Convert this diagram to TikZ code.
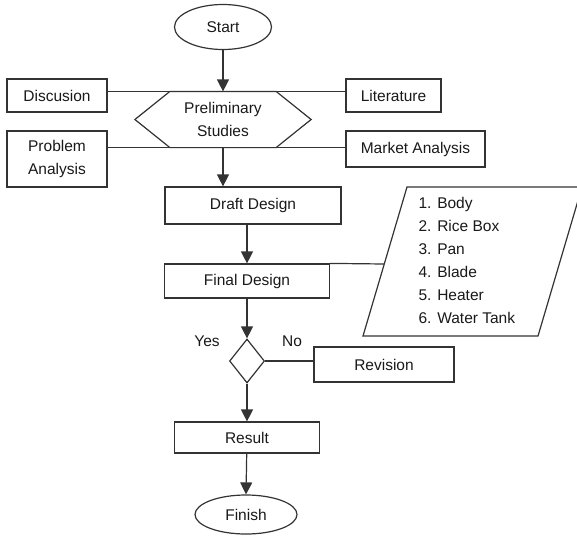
\documentclass[tikz,border=0pt]{standalone}
\usepackage{fontspec}
\setmainfont{Liberation Sans}
\usetikzlibrary{arrows.meta,shapes.geometric}

\begin{document}
\begin{tikzpicture}[x=1pt,y=-1pt,
	line width=1.2pt, draw=black!80,
	every node/.style={font=\fontsize{15.5}{22.5}\selectfont, text=black!90, inner sep=0pt},
	box/.style={draw=black!80, rectangle, align=center},
	term/.style={draw=black!80, ellipse},
	arr/.style={-{Triangle[length=12pt,width=12pt]}}]
	\useasboundingbox (0,0) rectangle (577,535);

	% Start and finish
	\node[term, minimum width=97pt, minimum height=45pt] (start) at (223,27) {Start};
	\node[term, minimum width=102pt, minimum height=39pt] (finish) at (246,514.5) {Finish};

	% Preliminary studies and its inputs
	\node[minimum width=175pt, minimum height=55pt, align=center] (prelim) at (223,119.5) {Preliminary\\Studies};
	\draw (prelim.west) -- ([xshift=35pt]prelim.north west) -- ([xshift=-35pt]prelim.north east)
		-- (prelim.east) -- ([xshift=-35pt]prelim.south east) -- ([xshift=35pt]prelim.south west) -- cycle;
	\node[box, minimum width=100pt, minimum height=33pt] (disc) at (57,95.5) {Discusion};
	\node[box, minimum width=95pt, minimum height=33pt] (lit) at (393.5,95.5) {Literature};
	\node[box, minimum width=100pt, minimum height=56pt] (prob) at (57,159) {Problem\\Analysis};
	\node[box, minimum width=139pt, minimum height=36pt] (mkt) at (415.5,149) {Market Analysis};

	% Design steps
	\node[box, minimum width=176pt, minimum height=37pt] (draft) at (253,205.5) {Draft Design};
	\node[box, minimum width=165pt, minimum height=34pt] (final) at (247,281) {Final Design};
	\node[draw=black!80, diamond, minimum width=35pt, minimum height=44pt] (dec) at (247,361) {};
	\node[box, minimum width=140pt, minimum height=35pt] (rev) at (384,364.5) {Revision};
	\node[box, minimum width=145pt, minimum height=31pt] (result) at (247,437.5) {Result};

	% Yes / No
	\node (yes) at (207,341) {Yes};
	\node (no) at (292,341) {No};

	% Parts list
	\draw (407,187) -- (582,187) -- (538,336) -- (363,336) -- cycle;
	\coordinate (partedge) at (384,264);
	\node[anchor=north west, align=left, font=\fontsize{15.5}{23}\selectfont] (parts) at (418,197)
		{1. Body\\2. Rice Box\\3. Pan\\4. Blade\\5. Heater\\6. Water Tank};

	% Arrows
	\draw[arr] (start) -- (prelim.north);
	\draw[arr] (prelim.south) -- (prelim.south |- draft.north);
	\draw[arr] (draft.south -| final.north) -- (final.north);
	\draw[arr] (final) -- (dec.north);
	\draw[arr] (dec) -- (result.north);
	\draw[arr] (result) -- (finish.north);

	% Lines
	\draw (disc.east |- prelim.north) -- (lit.west |- prelim.north);
	\draw (prob.east |- prelim.south) -- (mkt.west |- prelim.south);
	\draw (final.north east) -- (partedge);
	\draw (dec.east) -- (dec.east -| rev.west);
\end{tikzpicture}
\end{document}
